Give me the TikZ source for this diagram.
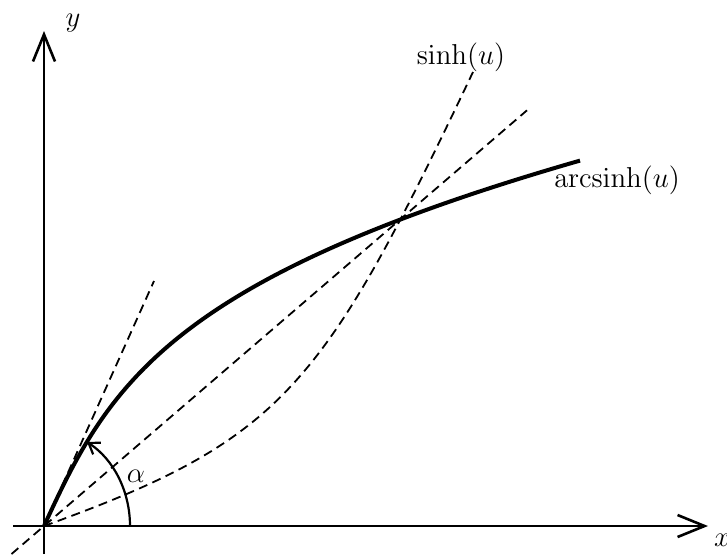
\documentclass[tikz,border=0pt]{standalone}
\usetikzlibrary{arrows.meta}
\begin{document}
\begin{tikzpicture}[x=0.5pt,y=-0.5pt,
  axis/.style={line width=1.3pt,-{Straight Barb[length=13.5pt,width=11pt]}},
  boldcurve/.style={line width=2pt,line join=round},
  dashline/.style={line width=0.9pt,dash pattern=on 4.5pt off 2.8pt},
  anglearrow/.style={line width=1.1pt,-{Straight Barb[length=5pt,width=7pt]}},
  lbl/.style={font=\fontsize{14}{16}\selectfont,inner sep=0pt}]
\useasboundingbox (0,0) rectangle (727,554);
% axes
\coordinate (O) at (44,526);
\coordinate (xs) at (13,526);
\coordinate (xe) at (708,526);
\coordinate (ys) at (44,554);
\coordinate (ye) at (44,31);
\draw[axis] (xs) -- (xe);
\draw[axis] (ys) -- (ye);
\node[lbl] (ylab) at (73,23) {$y$};
\node[lbl] (xlab) at (722,540) {$x$};
% chord through the intersection point
\coordinate (cs) at (11.5,554);
\coordinate (ce) at (527,110.3);
\draw[dashline] (cs) -- (ce);
% tangent at the origin
\coordinate (te) at (154,281);
\draw[dashline] (O) -- (te);
% sinh curve
\coordinate (se) at (473,72);
\draw[dashline] (O) .. controls (284,439.6) and (323,387) .. (se);
% arcsinh curve
\draw[boldcurve] plot[variable=\t,domain=0:536,samples=140]
  ({44+\t},{526-101*ln(0.0204*\t+sqrt(1+(0.0204*\t)^2))-0.1*\t});
% angle alpha
\coordinate (as) at (130,526);
\draw[anglearrow] (as) arc[start angle=0,end angle=-60,x radius=86,y radius=97];
\node[lbl] (alab) at (136,476) {$\alpha$};
% labels
\node[lbl] (sinhlab) at (461,57) {$\mathrm{sinh}(u)$};
\node[lbl] (asinhlab) at (617,180) {$\mathrm{arcsinh}(u)$};
\end{tikzpicture}
\end{document}
